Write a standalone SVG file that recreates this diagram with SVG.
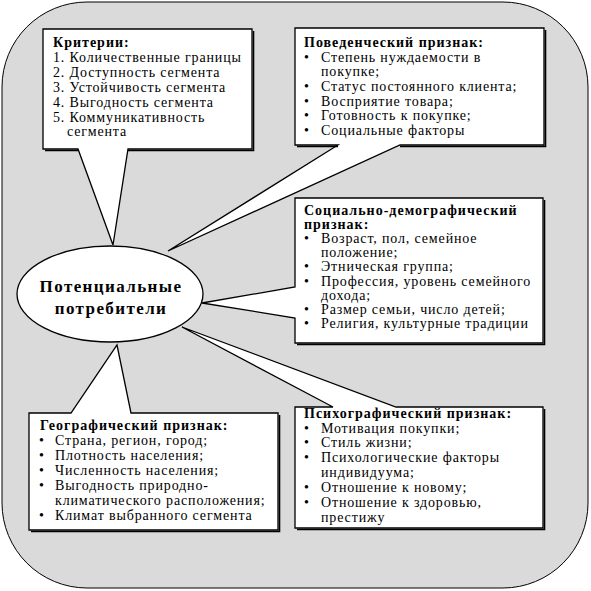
<svg xmlns="http://www.w3.org/2000/svg" width="591" height="591" viewBox="0 0 591 591">
<style>
.bg{fill:#dadada;stroke:#000;stroke-width:1}
.box{fill:#fff;stroke:#000;stroke-width:1.3;stroke-linejoin:miter}
.sh{fill:none;stroke:#000;stroke-width:1.6}
text{font-family:'Liberation Serif','Times New Roman','DejaVu Serif',serif;font-size:14px;letter-spacing:0.85px;fill:#000}
.h{font-weight:bold;letter-spacing:1px}
.c{font-weight:bold;font-size:17px;letter-spacing:1.4px;text-anchor:middle}
</style>
<rect class="bg" x="2" y="2" width="586" height="586" rx="85" ry="85"/>
<g id="connectors">
<ellipse class="box" cx="110" cy="294" rx="93" ry="48"/>
</g>
<g id="node-center">
<text class="c" x="111" y="292">Потенциальные</text>
<text class="c" x="111" y="314">потребители</text>
</g>
<g id="node-criteria">
<path class="box" d="M43,29 H252 V149 H128 L113,245 L78,149 H43 Z"/>
<path class="sh" d="M253.5,31 V150.5 H128 M78,150.5 H45"/>
<text class="h" x="53" y="47">Критерии:</text>
<text x="53" y="62">1. Количественные границы</text>
<text x="53" y="77">2. Доступность сегмента</text>
<text x="53" y="92">3. Устойчивость сегмента</text>
<text x="53" y="107">4. Выгодность сегмента</text>
<text x="53" y="122">5. Коммуникативность</text>
<text x="67" y="136">сегмента</text>
</g>
<g id="node-behavior">
<path class="box" d="M295,28 H544 V145 H400 L168,251 L338,145 H295 Z"/>
<path class="sh" d="M545.5,30 V146.5 H400 M338,146.5 H297"/>
<text class="h" x="304" y="47">Поведенческий признак:</text>
<text x="304" y="62">•</text><text x="321" y="62">Степень нуждаемости в</text>
<text x="321" y="76">покупке;</text>
<text x="304" y="91">•</text><text x="321" y="91">Статус постоянного клиента;</text>
<text x="304" y="106">•</text><text x="321" y="106">Восприятие товара;</text>
<text x="304" y="120">•</text><text x="321" y="120">Готовность к покупке;</text>
<text x="304" y="135">•</text><text x="321" y="135">Социальные факторы</text>
</g>
<g id="node-social">
<path class="box" d="M295,198 H543 V343 H295 V318 L202,303 L295,287 Z"/>
<path class="sh" d="M544.5,200 V344.5 H297"/>
<text class="h" x="304" y="215">Социально-демографический</text>
<text class="h" x="304" y="229">признак:</text>
<text x="304" y="243">•</text><text x="321" y="243">Возраст, пол, семейное</text>
<text x="321" y="257">положение;</text>
<text x="304" y="271">•</text><text x="321" y="271">Этническая группа;</text>
<text x="304" y="286">•</text><text x="321" y="286">Профессия, уровень семейного</text>
<text x="321" y="300">дохода;</text>
<text x="304" y="314">•</text><text x="321" y="314">Размер семьи, число детей;</text>
<text x="304" y="328">•</text><text x="321" y="328">Религия, культурные традиции</text>
</g>
<g id="node-geo">
<path class="box" d="M29,413 H71 L117,345 L131,413 H278 V530 H29 Z"/>
<path class="sh" d="M279.5,415 V531.5 H31"/>
<text class="h" x="40" y="430">Географический признак:</text>
<text x="39" y="445">•</text><text x="55" y="445">Страна, регион, город;</text>
<text x="39" y="460">•</text><text x="55" y="460">Плотность населения;</text>
<text x="39" y="475">•</text><text x="55" y="475">Численность населения;</text>
<text x="39" y="490">•</text><text x="55" y="490">Выгодность природно-</text>
<text x="55" y="505">климатического расположения;</text>
<text x="39" y="520">•</text><text x="55" y="520">Климат выбранного сегмента</text>
</g>
<g id="node-psycho">
<path class="box" d="M295,407 H333 L182,327 L396,407 H543 V528 H295 Z"/>
<path class="sh" d="M544.5,409 V529.5 H297"/>
<text class="h" x="304" y="418">Психографический признак:</text>
<text x="304" y="433">•</text><text x="321" y="433">Мотивация покупки;</text>
<text x="304" y="447">•</text><text x="321" y="447">Стиль жизни;</text>
<text x="304" y="462">•</text><text x="321" y="462">Психологические факторы</text>
<text x="321" y="477">индивидуума;</text>
<text x="304" y="492">•</text><text x="321" y="492">Отношение к новому;</text>
<text x="304" y="507">•</text><text x="321" y="507">Отношение к здоровью,</text>
<text x="321" y="522">престижу</text>
</g>
</svg>
